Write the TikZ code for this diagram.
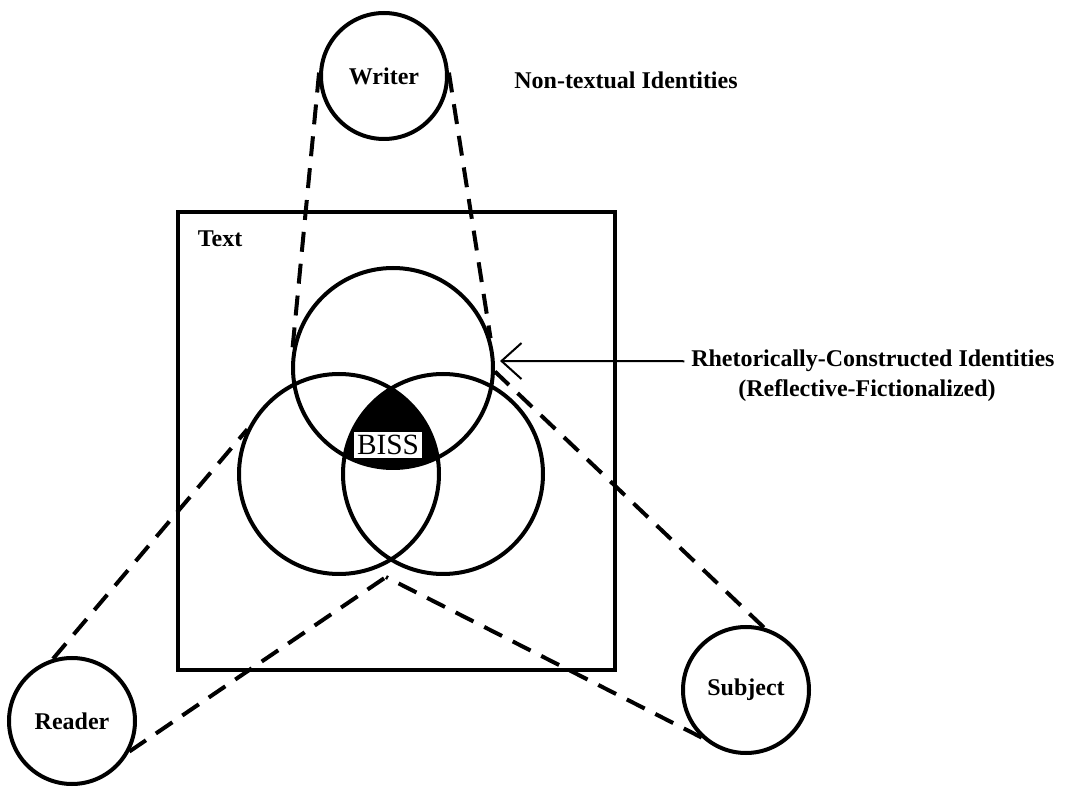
\documentclass[tikz,border=0pt]{standalone}
\usepackage{fontspec}
\setmainfont{Liberation Serif}
\usetikzlibrary{arrows.meta}
\newcommand{\vennsize}{150pt}
\newcommand{\selfsize}{94.5pt}

\begin{document}
\begin{tikzpicture}[x=.75pt, y=.75pt,
        ring/.style={draw, circle, line width=3pt, inner sep=0pt},
        tie/.style={line width=3pt, dash pattern=on 15pt off 9pt},
        lbl/.style={font=\fontsize{18}{22}\selectfont\bfseries, inner sep=0pt}]
        \useasboundingbox (0,0) rectangle (1072,790);

        \draw[line width=3pt] (178,120) rectangle (615,578);
        \node (txt) at (220,551) [lbl] {Text};

        \foreach \n/\x/\y in {top/393/422, lt/339/316, rt/443/316}
                 {
                   \node (\n) at (\x,\y) [ring, minimum size=\vennsize] {};
                 }
        \begin{scope}
          \clip (top) circle (100);
          \clip (lt) circle (100);
          \fill (rt) circle (100);
        \end{scope}
        \node (biss) at (388,345) [fill=white, inner sep=2pt, font=\fontsize{22}{22}\selectfont] {BISS};

        \node (writer)  at (384,714) [ring, minimum size=\selfsize, lbl] {Writer};
        \node (reader)  at (72,69)   [ring, minimum size=\selfsize, lbl] {Reader};
        \node (subject) at (746,100) [ring, minimum size=\selfsize, lbl] {Subject};
        \node (nontext) at (626,710) [lbl] {Non-textual Identities};

        \coordinate (meet) at (386,213);
        \draw[tie] (writer.177) -- (top.172);
        \draw[tie] (writer.3) -- (top.17);
        \draw[tie] (reader.107) -- (lt.154);
        \draw[tie] (reader.-28) -- (meet);
        \draw[tie] (subject.227) -- (meet);
        \draw[tie] (subject.74) -- (top.-2);

        % rhetorical identities
        \node (rhet) at (691,423) [lbl, anchor=base west] {Rhetorically-Constructed Identities};
        \node (refl) at (867,393) [lbl, anchor=base] {(Reflective-Fictionalized)};
        \coordinate (tip) at (500,429);
        \draw[line width=1.5pt, shorten <=5pt, -{Straight Barb[length=15pt,width=27pt]}] (rhet.west) -- (tip);
      \end{tikzpicture}
\end{document}
